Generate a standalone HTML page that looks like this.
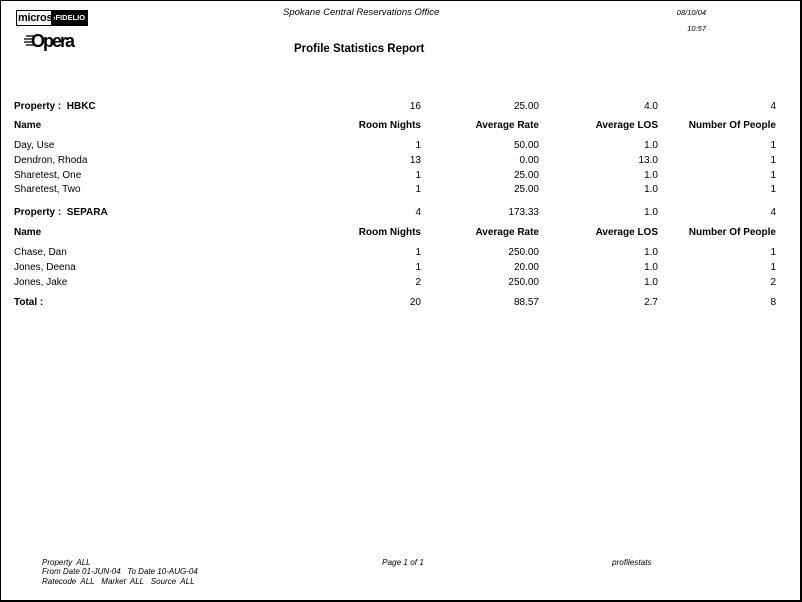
<!DOCTYPE html>
<html>
<head>
<meta charset="utf-8">
<style>
html,body{margin:0;padding:0;background:#fff;}
#page{position:relative;width:802px;height:602px;box-sizing:border-box;border-left:1px solid #000;border-top:1px solid #000;border-right:2px solid #000;border-bottom:2px solid #000;overflow:hidden;font-family:"Liberation Sans",Arial,sans-serif;color:#000;}
.t{position:absolute;white-space:nowrap;line-height:12px;font-size:10px;}
.b{font-weight:bold;}
.r{text-align:right;}
.i{font-style:italic;}
.f{position:absolute;white-space:nowrap;font-style:italic;font-size:8px;line-height:10px;}
</style>
</head>
<body>
<div id="page">
  <!-- micros fidelio logo -->
  <div style="position:absolute;left:15px;top:9px;width:70px;height:14px;border:1px solid #000;background:#fff;">
    <div style="position:absolute;left:1px;top:0;font-weight:bold;font-size:11px;line-height:14px;letter-spacing:-0.3px;">micros</div>
    <div style="position:absolute;left:34px;top:0;width:36px;height:14px;background:#000;color:#fff;font-weight:bold;font-size:7.5px;line-height:14px;text-align:center;letter-spacing:0;">›FIDELIO</div>
  </div>
  <!-- opera logo -->
  <svg style="position:absolute;left:23px;top:33px;" width="12" height="14">
    <line x1="2" y1="2" x2="10" y2="2" stroke="#000" stroke-width="1.3"/>
    <line x1="0" y1="5" x2="10" y2="5" stroke="#000" stroke-width="1.3"/>
    <line x1="0" y1="8" x2="10" y2="8" stroke="#000" stroke-width="1.3"/>
    <line x1="2" y1="11" x2="10" y2="11" stroke="#000" stroke-width="1.3"/>
  </svg>
  <div style="position:absolute;left:30px;top:30px;font-weight:bold;font-size:18px;line-height:21px;letter-spacing:-2px;white-space:nowrap;">Opera</div>

  <!-- header -->
  <div class="t i" style="left:282px;top:6px;font-size:9.5px;">Spokane Central Reservations Office</div>
  <div class="t i r" style="right:94px;top:6px;font-size:7.5px;">08/10/04</div>
  <div class="t i r" style="right:94px;top:22px;font-size:7.5px;">10:57</div>
  <div class="t b" style="left:293px;top:41px;font-size:11.5px;line-height:14px;">Profile Statistics Report</div>

  <!-- HBKC -->
  <div class="t b" style="left:13px;top:100px;">Property :&nbsp; HBKC</div>
  <div class="t r" style="right:379px;top:100px;">16</div>
  <div class="t r" style="right:261px;top:100px;">25.00</div>
  <div class="t r" style="right:142px;top:100px;">4.0</div>
  <div class="t r" style="right:24px;top:100px;">4</div>

  <div class="t b" style="left:13px;top:119px;">Name</div>
  <div class="t b r" style="right:379px;top:119px;">Room Nights</div>
  <div class="t b r" style="right:261px;top:119px;">Average Rate</div>
  <div class="t b r" style="right:142px;top:119px;">Average LOS</div>
  <div class="t b r" style="right:24px;top:119px;">Number Of People</div>

  <div class="t" style="left:13px;top:139px;">Day, Use</div>
  <div class="t r" style="right:379px;top:139px;">1</div>
  <div class="t r" style="right:261px;top:139px;">50.00</div>
  <div class="t r" style="right:142px;top:139px;">1.0</div>
  <div class="t r" style="right:24px;top:139px;">1</div>

  <div class="t" style="left:13px;top:154px;">Dendron, Rhoda</div>
  <div class="t r" style="right:379px;top:154px;">13</div>
  <div class="t r" style="right:261px;top:154px;">0.00</div>
  <div class="t r" style="right:142px;top:154px;">13.0</div>
  <div class="t r" style="right:24px;top:154px;">1</div>

  <div class="t" style="left:13px;top:169px;">Sharetest, One</div>
  <div class="t r" style="right:379px;top:169px;">1</div>
  <div class="t r" style="right:261px;top:169px;">25.00</div>
  <div class="t r" style="right:142px;top:169px;">1.0</div>
  <div class="t r" style="right:24px;top:169px;">1</div>

  <div class="t" style="left:13px;top:183px;">Sharetest, Two</div>
  <div class="t r" style="right:379px;top:183px;">1</div>
  <div class="t r" style="right:261px;top:183px;">25.00</div>
  <div class="t r" style="right:142px;top:183px;">1.0</div>
  <div class="t r" style="right:24px;top:183px;">1</div>

  <!-- SEPARA -->
  <div class="t b" style="left:13px;top:206px;">Property :&nbsp; SEPARA</div>
  <div class="t r" style="right:379px;top:206px;">4</div>
  <div class="t r" style="right:261px;top:206px;">173.33</div>
  <div class="t r" style="right:142px;top:206px;">1.0</div>
  <div class="t r" style="right:24px;top:206px;">4</div>

  <div class="t b" style="left:13px;top:226px;">Name</div>
  <div class="t b r" style="right:379px;top:226px;">Room Nights</div>
  <div class="t b r" style="right:261px;top:226px;">Average Rate</div>
  <div class="t b r" style="right:142px;top:226px;">Average LOS</div>
  <div class="t b r" style="right:24px;top:226px;">Number Of People</div>

  <div class="t" style="left:13px;top:246px;">Chase, Dan</div>
  <div class="t r" style="right:379px;top:246px;">1</div>
  <div class="t r" style="right:261px;top:246px;">250.00</div>
  <div class="t r" style="right:142px;top:246px;">1.0</div>
  <div class="t r" style="right:24px;top:246px;">1</div>

  <div class="t" style="left:13px;top:261px;">Jones, Deena</div>
  <div class="t r" style="right:379px;top:261px;">1</div>
  <div class="t r" style="right:261px;top:261px;">20.00</div>
  <div class="t r" style="right:142px;top:261px;">1.0</div>
  <div class="t r" style="right:24px;top:261px;">1</div>

  <div class="t" style="left:13px;top:276px;">Jones, Jake</div>
  <div class="t r" style="right:379px;top:276px;">2</div>
  <div class="t r" style="right:261px;top:276px;">250.00</div>
  <div class="t r" style="right:142px;top:276px;">1.0</div>
  <div class="t r" style="right:24px;top:276px;">2</div>

  <div class="t b" style="left:13px;top:296px;">Total :</div>
  <div class="t r" style="right:379px;top:296px;">20</div>
  <div class="t r" style="right:261px;top:296px;">88.57</div>
  <div class="t r" style="right:142px;top:296px;">2.7</div>
  <div class="t r" style="right:24px;top:296px;">8</div>

  <!-- footer -->
  <div class="f" style="left:41px;top:557px;">Property&nbsp; ALL</div>
  <div class="f" style="left:41px;top:566px;">From Date 01-JUN-04&nbsp;&nbsp; To Date 10-AUG-04</div>
  <div class="f" style="left:41px;top:575.5px;">Ratecode&nbsp; ALL&nbsp;&nbsp; Market&nbsp; ALL&nbsp;&nbsp; Source&nbsp; ALL</div>
  <div class="f" style="left:381px;top:557px;font-size:8.2px;">Page 1 of 1</div>
  <div class="f" style="left:611px;top:557px;font-size:8.2px;">profilestats</div>
</div>
</body>
</html>
